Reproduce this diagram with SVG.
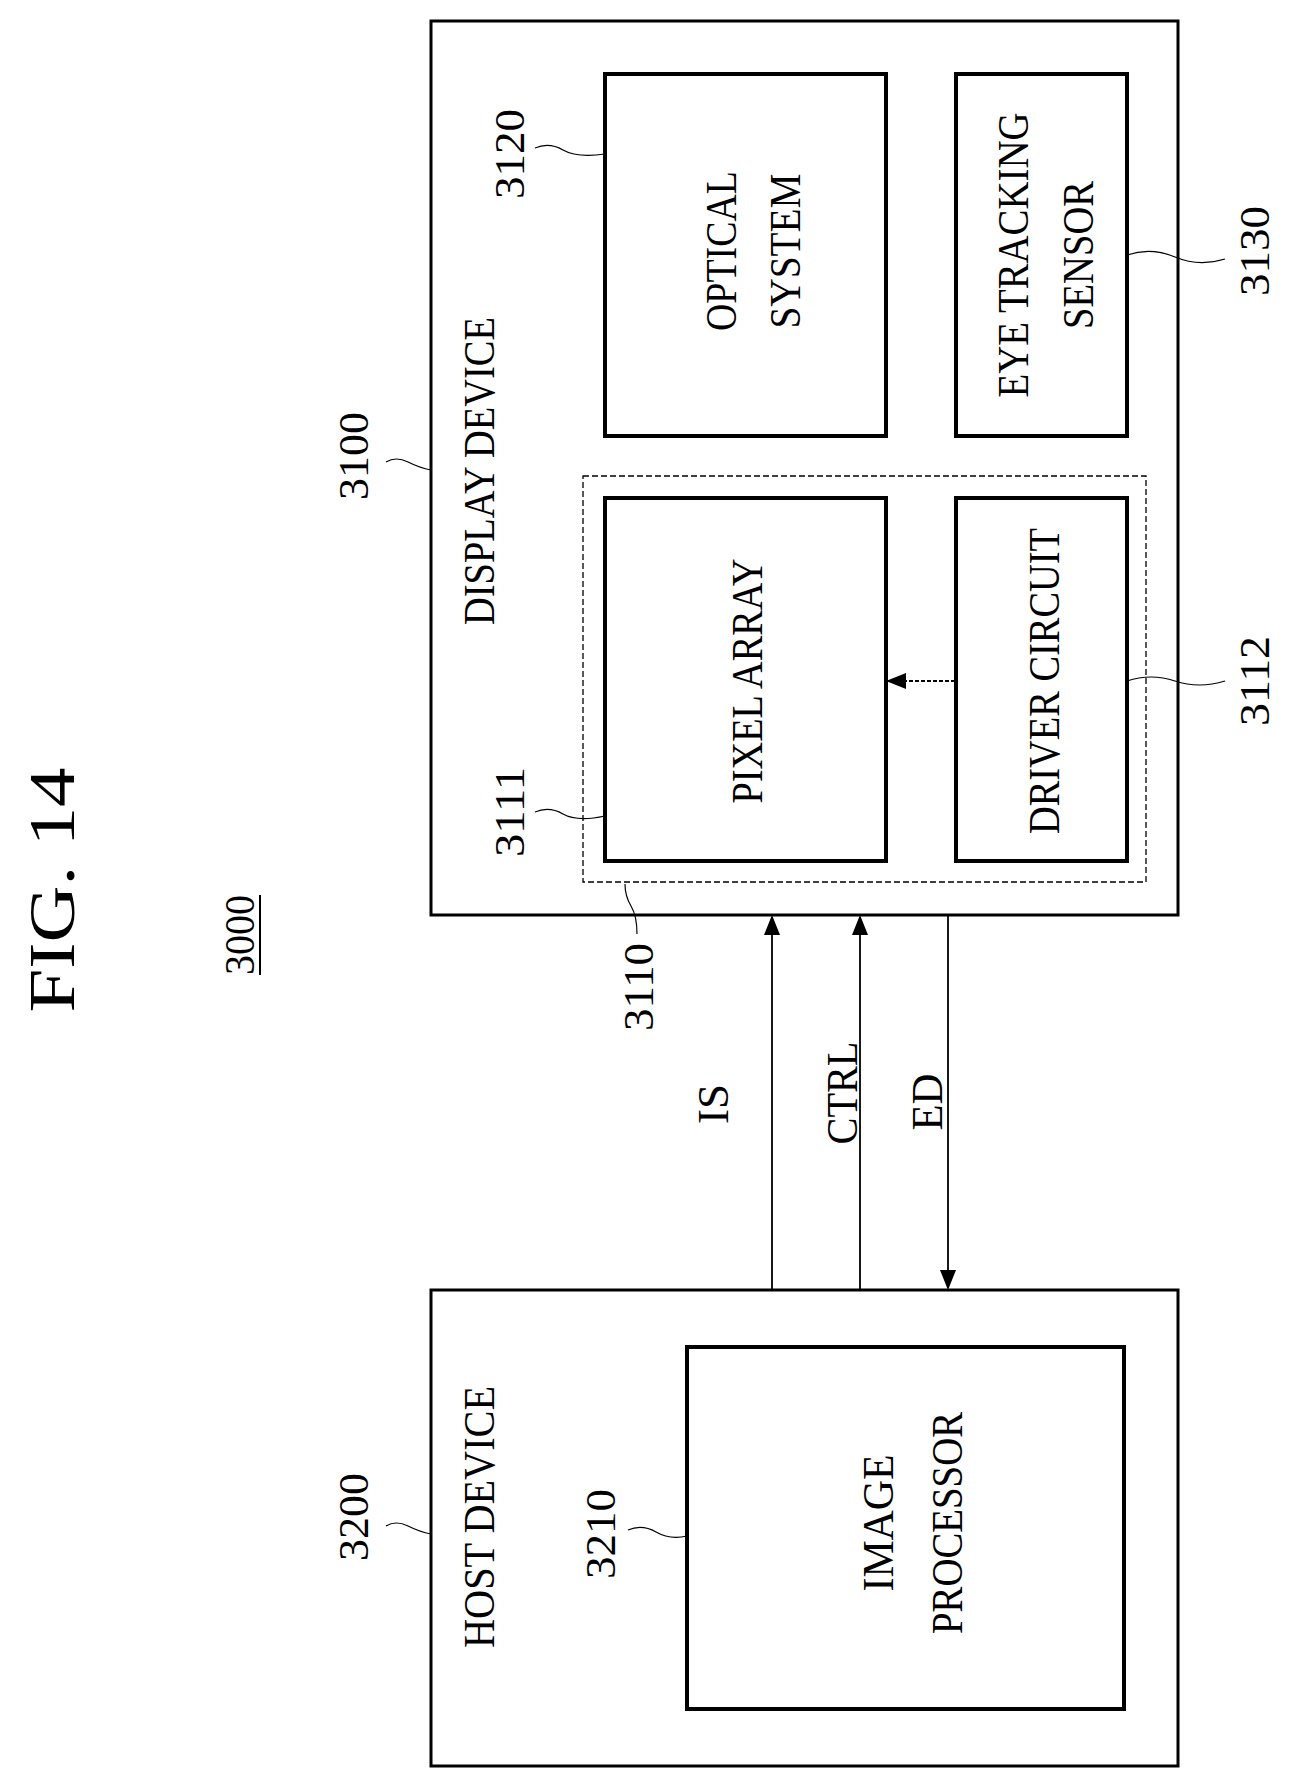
<svg xmlns="http://www.w3.org/2000/svg" width="1289" height="1782" viewBox="0 0 1289 1782">
<style>
text{font-family:"Liberation Serif","Times New Roman",serif;fill:#000;text-anchor:middle;dominant-baseline:central}
.l{font-size:45px}.n{font-size:42px}
.box{fill:none;stroke:#000;stroke-width:3}
.blk{fill:none;stroke:#000;stroke-width:4}
.lead{fill:none;stroke:#000;stroke-width:1.2}
.con{stroke:#000;stroke-width:1.8;fill:none}
</style>
<defs><marker id="ah2" markerWidth="20" markerHeight="16" refX="18" refY="8" orient="auto" markerUnits="userSpaceOnUse"><path d="M0,0 L20,8 L0,16 Z" fill="#000"/></marker></defs>
<rect width="1289" height="1782" fill="#fff"/>
<text transform="translate(51,890) rotate(-90)" font-size="66" textLength="245" lengthAdjust="spacingAndGlyphs">FIG. 14</text>
<text transform="translate(240,935) rotate(-90)" class="n" textLength="80" lengthAdjust="spacingAndGlyphs">3000</text>
<line x1="260" y1="895" x2="260" y2="975" stroke="#000" stroke-width="2"/>
<g id="n3100">
<rect class="box" x="431" y="21" width="747" height="894"/>
<text transform="translate(479,471) rotate(-90)" class="l" textLength="308" lengthAdjust="spacingAndGlyphs">DISPLAY DEVICE</text>
<text transform="translate(354,456) rotate(-90)" class="n" textLength="88" lengthAdjust="spacingAndGlyphs">3100</text>
<path class="lead" d="M386,462 q10,-6 22,0 t23,8"/>
</g>
<g id="n3110">
<rect x="583" y="476" width="563" height="406" fill="none" stroke="#000" stroke-width="1.3" stroke-dasharray="6,3"/>
<text transform="translate(639,987) rotate(-90)" class="n" textLength="88" lengthAdjust="spacingAndGlyphs">3110</text>
<path class="lead" d="M625,884 q0,12 6,22 t6,28"/>
</g>
<g id="n3120">
<rect class="blk" x="605" y="74" width="281" height="362"/>
<text transform="translate(721,251) rotate(-90)" class="l" textLength="160" lengthAdjust="spacingAndGlyphs">OPTICAL</text>
<text transform="translate(785,251) rotate(-90)" class="l" textLength="155" lengthAdjust="spacingAndGlyphs">SYSTEM</text>
<text transform="translate(510,154) rotate(-90)" class="n" textLength="90" lengthAdjust="spacingAndGlyphs">3120</text>
<path class="lead" d="M535,148 q14,-6 28,2 t42,4"/>
</g>
<g id="n3130">
<rect class="blk" x="956" y="74" width="171" height="362"/>
<text transform="translate(1013,255) rotate(-90)" class="l" textLength="285" lengthAdjust="spacingAndGlyphs">EYE TRACKING</text>
<text transform="translate(1078,255) rotate(-90)" class="l" textLength="148" lengthAdjust="spacingAndGlyphs">SENSOR</text>
<text transform="translate(1255,251) rotate(-90)" class="n" textLength="90" lengthAdjust="spacingAndGlyphs">3130</text>
<path class="lead" d="M1127,255 q24,-8 48,2 t50,2"/>
</g>
<g id="n3111">
<rect class="blk" x="605" y="498" width="281" height="363"/>
<text transform="translate(747,681) rotate(-90)" class="l" textLength="245" lengthAdjust="spacingAndGlyphs">PIXEL ARRAY</text>
<text transform="translate(510,812) rotate(-90)" class="n" textLength="90" lengthAdjust="spacingAndGlyphs">3111</text>
<path class="lead" d="M535,812 q14,-6 28,2 t42,2"/>
</g>
<g id="n3112">
<rect class="blk" x="956" y="498" width="171" height="363"/>
<text transform="translate(1044,681) rotate(-90)" class="l" textLength="306" lengthAdjust="spacingAndGlyphs">DRIVER CIRCUIT</text>
<text transform="translate(1255,681) rotate(-90)" class="n" textLength="90" lengthAdjust="spacingAndGlyphs">3112</text>
<path class="lead" d="M1127,681 q24,-8 48,0 t50,0"/>
</g>
<g id="n3200">
<rect class="box" x="431" y="1290" width="747" height="476"/>
<text transform="translate(479,1517) rotate(-90)" class="l" textLength="262" lengthAdjust="spacingAndGlyphs">HOST DEVICE</text>
<text transform="translate(354,1517) rotate(-90)" class="n" textLength="88" lengthAdjust="spacingAndGlyphs">3200</text>
<path class="lead" d="M386,1526 q10,-6 22,0 t23,8"/>
</g>
<g id="n3210">
<rect class="blk" x="687" y="1347" width="437" height="362"/>
<text transform="translate(878,1523) rotate(-90)" class="l" textLength="137" lengthAdjust="spacingAndGlyphs">IMAGE</text>
<text transform="translate(947,1523) rotate(-90)" class="l" textLength="222" lengthAdjust="spacingAndGlyphs">PROCESSOR</text>
<text transform="translate(601,1534) rotate(-90)" class="n" textLength="90" lengthAdjust="spacingAndGlyphs">3210</text>
<path class="lead" d="M628,1530 q14,-6 28,2 t31,4"/>
</g>
<g id="connectors">
<line class="con" x1="955" y1="681" x2="888" y2="681" stroke-dasharray="4,2" marker-end="url(#ah2)"/>
<line class="con" x1="772" y1="1290" x2="772" y2="917" marker-end="url(#ah2)"/>
<line class="con" x1="860" y1="1290" x2="860" y2="917" marker-end="url(#ah2)"/>
<line class="con" x1="948" y1="915" x2="948" y2="1288" marker-end="url(#ah2)"/>
<text transform="translate(713,1104) rotate(-90)" class="l">IS</text>
<text transform="translate(842,1093) rotate(-90)" class="l" textLength="103" lengthAdjust="spacingAndGlyphs">CTRL</text>
<text transform="translate(927,1102) rotate(-90)" class="l" textLength="57" lengthAdjust="spacingAndGlyphs">ED</text>
</g>
</svg>
